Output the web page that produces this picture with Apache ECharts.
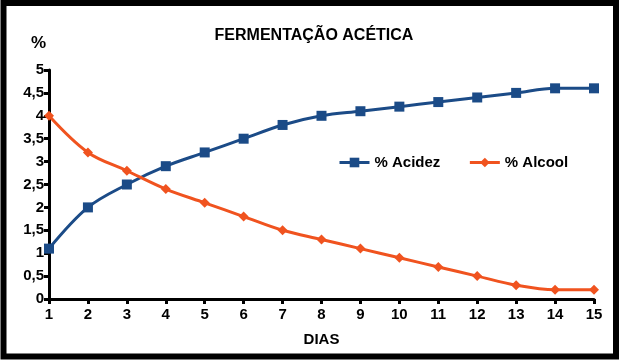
<!DOCTYPE html>
<html>
<head>
<meta charset="utf-8">
<script src="https://cdn.jsdelivr.net/npm/echarts@6/dist/echarts.min.js"></script>
<style>
html,body{margin:0;padding:0;background:#fff;}
#chart{width:630px;height:364px;}
</style>
</head>
<body>
<div id="chart"></div>
<script>
var dias = ['1','2','3','4','5','6','7','8','9','10','11','12','13','14','15'];
var acidez = [1.1, 2.0, 2.5, 2.9, 3.2, 3.5, 3.8, 4.0, 4.1, 4.2, 4.3, 4.4, 4.5, 4.6, 4.6];
var alcool = [4.0, 3.2, 2.8, 2.4, 2.1, 1.8, 1.5, 1.3, 1.1, 0.9, 0.7, 0.5, 0.3, 0.2, 0.2];
var seriesNames = ['% Acidez', '% Alcool'];

var chart = echarts.init(document.getElementById('chart'), null, {renderer:'canvas'});
var fontFam = 'Liberation Sans, Arial, sans-serif';
chart.setOption({
  animation: false,
  backgroundColor: '#fff',
  textStyle: {fontFamily: fontFam},
  title: {
    text: 'FERMENTAÇÃO ACÉTICA',
    left: 309, top: 23, textAlign: 'center',
    textStyle: {fontSize: 16, fontWeight: 'bold', color: '#000', fontFamily: fontFam}
  },
  graphic: [
    {type:'rect', shape:{x:3.5, y:3, width:612.5, height:353.5}, style:{fill:'none', stroke:'#000', lineWidth:6}, z:100},
    {type:'text', left: 31, top: 35, style:{text:'%', font:'bold 17px '+fontFam, fill:'#000'}}
  ],
  legend: {
    left: 333, top: 150,
    itemWidth: 30, itemHeight: 12, itemGap: 28,
    lineStyle: {width: 3},
    textStyle: {fontSize: 15, fontWeight: 'bold', color: '#000', fontFamily: fontFam},
    data: seriesNames
  },
  grid: {left: 49, right: 36, top: 70, bottom: 65},
  xAxis: {
    type: 'category', data: dias, boundaryGap: false,
    name: 'DIAS', nameLocation: 'middle', nameGap: 33,
    nameTextStyle: {fontSize: 15, fontWeight: 'bold', color: '#000', fontFamily: fontFam},
    axisLine: {lineStyle: {color: '#000', width: 3}},
    axisTick: {show: true, length: 5, alignWithLabel: true, lineStyle:{color:'#000', width: 3}},
    axisLabel: {fontSize: 15, fontWeight: 'bold', color: '#000', margin: 8, fontFamily: fontFam},
    splitLine: {show: false}
  },
  yAxis: {
    type: 'value', min: 0, max: 5, interval: 0.5,
    axisLine: {show: true, lineStyle: {color: '#000', width: 3}},
    axisTick: {show: true, length: 5, lineStyle:{color:'#000', width: 3}},
    axisLabel: {fontSize: 15, fontWeight: 'bold', color: '#000', margin: 5, fontFamily: fontFam,
      formatter: function(v){ return String(v).replace('.', ','); }},
    splitLine: {show: false}
  },
  series: [
    {
      name: seriesNames[0], type: 'line', data: acidez, smooth: 0.35,
      symbol: 'rect', symbolSize: 10,
      lineStyle: {color: '#1b4b87', width: 3},
      itemStyle: {color: '#1b4b87'}
    },
    {
      name: seriesNames[1], type: 'line', data: alcool, smooth: 0.35,
      symbol: 'diamond', symbolSize: 10,
      lineStyle: {color: '#f0531f', width: 3},
      itemStyle: {color: '#f0531f'}
    }
  ]
});
</script>
</body>
</html>
